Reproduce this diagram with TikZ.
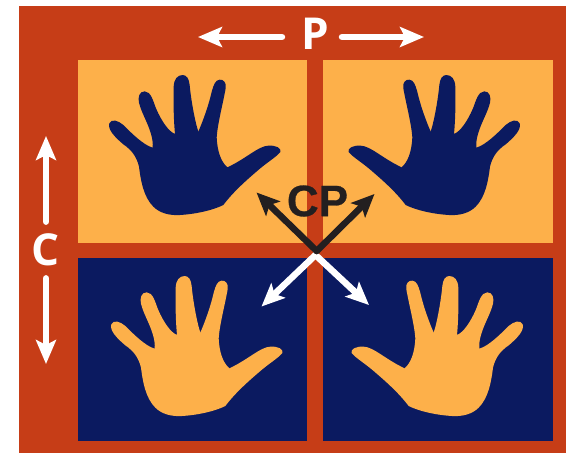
\documentclass[tikz,border=0pt]{standalone}
\usepackage{fontspec}
\setmainfont{Liberation Sans}
\newfontfamily\labelfont{Open Sans}
\newfontfamily\cpfont{Liberation Sans}[BoldFeatures={FakeBold=0.6}]
\usetikzlibrary{arrows.meta}
\definecolor{bgred}{HTML}{C63D17}
\definecolor{orangeA}{HTML}{FDB04A}
\definecolor{navyA}{HTML}{0B1A60}
\definecolor{inkA}{HTML}{231F20}
\newcommand{\handoutline}{
  (472,352) .. controls (453,335) and (442,305) .. (440,262)
  .. controls (443,220) and (458,165) .. (467,115)
  .. controls (470,97) and (460,88) .. (449,89)
  .. controls (436,90) and (431,105) .. (426,122)
  .. controls (416,165) and (402,205) .. (385,245)
  .. controls (375,215) and (363,150) .. (359,105)
  .. controls (357,85) and (349,75) .. (338,75)
  .. controls (322,75) and (312,88) .. (311,110)
  .. controls (310,160) and (311,210) .. (315,252)
  .. controls (297,245) and (275,215) .. (258,175)
  .. controls (250,155) and (243,124) .. (224,124)
  .. controls (208,124) and (203,142) .. (207,158)
  .. controls (215,195) and (252,245) .. (248,293)
  .. controls (220,285) and (185,250) .. (160,225)
  .. controls (145,212) and (125,205) .. (118,220)
  .. controls (112,238) and (135,262) .. (160,283)
  .. controls (185,300) and (200,320) .. (207,350)
  .. controls (212,390) and (220,440) .. (250,470)
  .. controls (270,490) and (300,497) .. (330,495)
  .. controls (380,492) and (430,480) .. (460,465)
  .. controls (490,425) and (530,390) .. (565,360)
  .. controls (590,338) and (618,322) .. (631,306)
  .. controls (636,295) and (617,285) .. (595,287)
  .. controls (565,288) and (530,325) .. (472,352) -- cycle}
\tikzset{
  panel/.style={minimum width=229.5pt,minimum height=183pt,inner sep=0pt,outer sep=0pt,anchor=north west},
  handunit/.style={x=0.33333pt,y=-0.33333pt},
  bigletter/.style={text=white,font=\labelfont\bfseries\fontsize{44}{44}\selectfont,inner sep=0pt},
  cpletter/.style={text=inkA,font=\cpfont\bfseries\fontsize{44}{44}\selectfont,inner sep=0pt},
  whitearrow/.style={draw=white,line width=6.5pt,line cap=round,-{Stealth[length=24pt,width=20pt,inset=5pt]}},
  diagarrow/.style={line width=6.5pt,line cap=round,-{Stealth[length=23pt,width=20pt,inset=5pt]}}
}
\begin{document}
\begin{tikzpicture}[x=1pt,y=-1pt]
\useasboundingbox (0,0) rectangle (576,453);
\fill[bgred] (19,5.5) rectangle (566,453);
\node[panel,fill=orangeA] (tl) at (77.5,59.5) {};
\node[panel,fill=orangeA] (tr) at (323,59.5) {};
\node[panel,fill=navyA] (bl) at (77.5,258) {};
\node[panel,fill=navyA] (br) at (323,258) {};
\begin{scope}[handunit,xshift=70pt,yshift=-50pt]
  \fill[navyA] \handoutline;
\end{scope}
\begin{scope}[handunit,xshift=559pt,yshift=-50pt,xscale=-1]
  \fill[navyA] \handoutline;
\end{scope}
\begin{scope}[handunit,xshift=72pt,yshift=-251pt]
  \fill[orangeA] \handoutline;
\end{scope}
\begin{scope}[handunit,xshift=562pt,yshift=-251pt,xscale=-1]
  \fill[orangeA] \handoutline;
\end{scope}
\node[bigletter] (P) at (315,34) {P};
\node[bigletter] (C) at (46,250) {C};
\node[cpletter] (CP) at (317.5,201) {CP};
\coordinate (Pl) at (198,37);
\coordinate (Pr) at (424,37);
\coordinate (Cu) at (46,136);
\coordinate (Cd) at (46,364);
\coordinate (Ob) at (316.7,251);
\coordinate (Ow) at (315.5,255);
\coordinate (NW) at (256.5,192.5);
\coordinate (NE) at (374.5,194);
\coordinate (SW) at (261.5,306.5);
\coordinate (SE) at (369,305);
\draw[whitearrow] (P.west) ++(-19,3) -- (Pl);
\draw[whitearrow] (P.east) ++(13,3) -- (Pr);
\draw[whitearrow] (C.north) ++(0,-12) -- (Cu);
\draw[whitearrow] (C.south) ++(0,12) -- (Cd);
\draw[diagarrow,draw=white] (Ow) -- (SW);
\draw[diagarrow,draw=white] (Ow) -- (SE);
\draw[diagarrow,draw=inkA] (Ob) -- (NW);
\draw[diagarrow,draw=inkA] (Ob) -- (NE);
\end{tikzpicture}
\end{document}
